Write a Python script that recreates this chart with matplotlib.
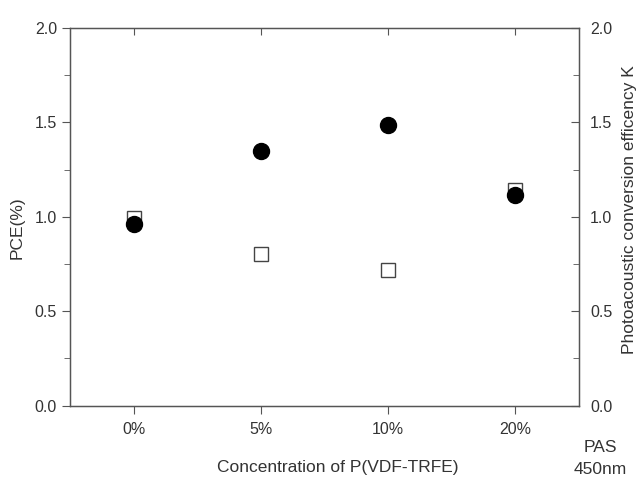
import numpy as np
import matplotlib.pyplot as plt

plt.rcParams["font.family"] = ["Liberation Sans", "DejaVu Sans"]

conc = ['0%', '5%', '10%', '20%']
pce = [0.96, 1.35, 1.485, 1.115]
pas_k = [0.995, 0.805, 0.72, 1.14]

txt = '#333333'
ax_col = '#555555'

fig = plt.figure(figsize=(6.37, 4.8), dpi=100)
ax = fig.add_axes([0.110, 0.155, 0.799, 0.787])
x = np.arange(len(conc))

ax.plot(x, pas_k, 's', ms=9.5, mfc='white', mec='#444444', mew=1.0, zorder=3)
ax.plot(x, pce, 'o', ms=11.5, color='black', zorder=4)

ax.set_xlim(-0.5, 3.5)
ax.set_ylim(0, 2.0)
ax.set_xticks(x)
ax.set_xticklabels(conc)
ax.set_yticks([0, 0.5, 1.0, 1.5, 2.0])
ax.set_yticks([0.25, 0.75, 1.25, 1.75], minor=True)
ax.yaxis.set_major_formatter(plt.FormatStrFormatter('%.1f'))

for s in ax.spines.values():
    s.set_color(ax_col)
    s.set_linewidth(1.0)

ax.tick_params(axis='x', which='both', direction='out', length=6, color=ax_col,
               labelcolor=txt, labelsize=11.5, top=True, pad=6)
ax.tick_params(axis='y', which='major', direction='out', length=6, color=ax_col,
               labelcolor=txt, labelsize=11.5)
ax.tick_params(axis='y', which='minor', direction='out', length=4, color=ax_col)

# top ticks drawn inward
for t in ax.xaxis.get_major_ticks():
    t.tick2line.set_marker(3)
    t.tick2line.set_markersize(5)

ax2 = ax.twinx()
ax2.set_ylim(0, 2.0)
ax2.set_yticks([0, 0.5, 1.0, 1.5, 2.0])
ax2.set_yticks([0.25, 0.75, 1.25, 1.75], minor=True)
ax2.yaxis.set_major_formatter(plt.FormatStrFormatter('%.1f'))
ax2.tick_params(axis='y', which='major', direction='in', length=6, color=ax_col,
                labelcolor=txt, labelsize=11.5, pad=8)
ax2.tick_params(axis='y', which='minor', direction='in', length=4, color=ax_col)
for s in ax2.spines.values():
    s.set_color(ax_col)

ax.set_ylabel('PCE(%)', color=txt, fontsize=12.5)
ax.yaxis.set_label_coords(-0.09, 0.47)
ax.set_xlabel('Concentration of P(VDF-TRFE)', color=txt, fontsize=12.5)
ax.xaxis.set_label_coords(0.525, -0.145)
ax2.set_ylabel('Photoacoustic conversion efficency K', color=txt, fontsize=12.5)
ax2.yaxis.set_label_coords(1.085, 0.518)

fig.text(0.942, 0.068, 'PAS', ha='center', va='center', color=txt, fontsize=12.5)
fig.text(0.942, 0.022, '450nm', ha='center', va='center', color=txt, fontsize=12.5)

fig.savefig('out.png', dpi=100)
